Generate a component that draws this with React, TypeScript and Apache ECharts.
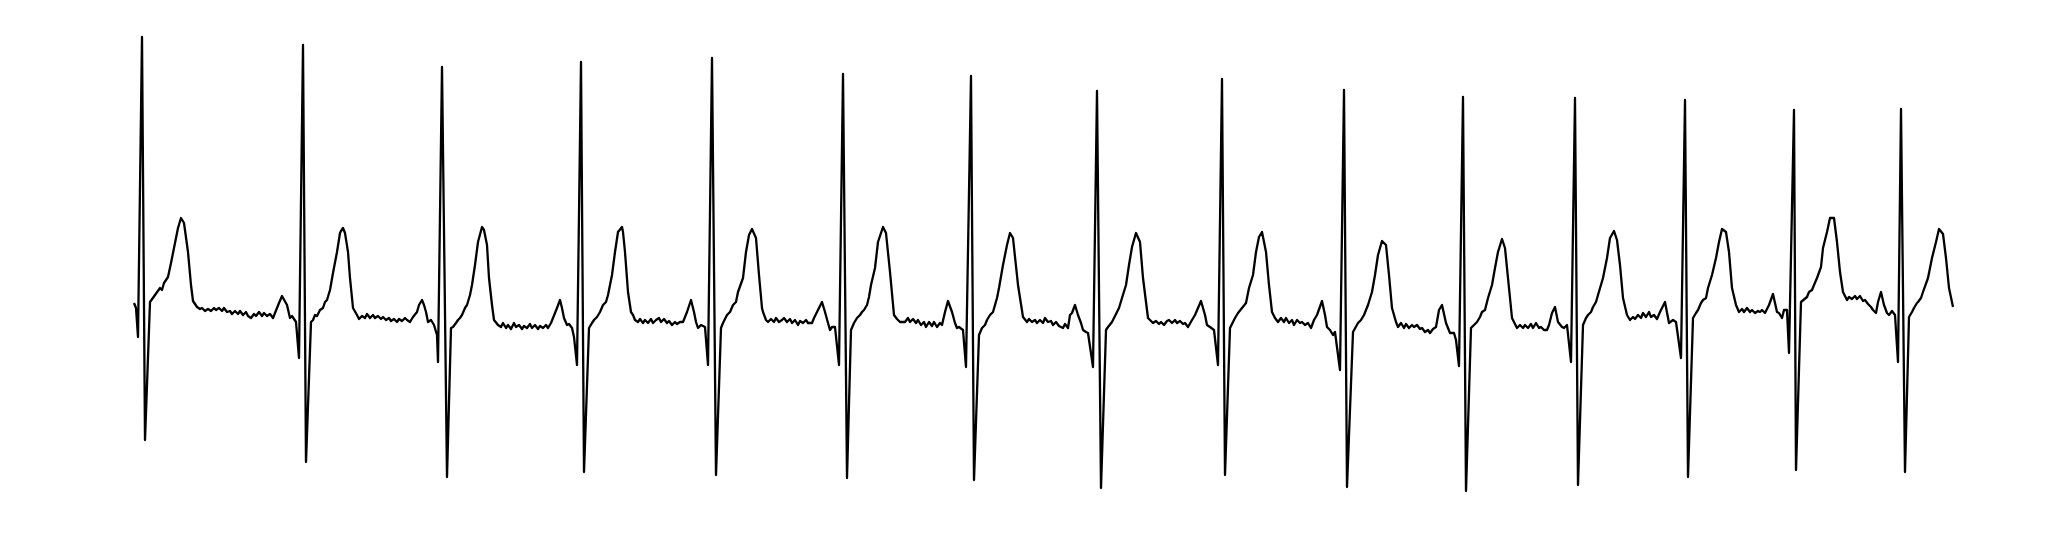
import React, { useEffect, useRef } from "react";
import * as echarts from "echarts";

// ECG trace: [sample, mV] pairs, one array per beat
const beat01 = [[0,0.17],[2,0.12],[4,-0.17],[8,2.83],[11,-1.20],[16,0.18],[21,0.25],[26,0.32],[28,0.30],[30,0.37],[34,0.43],[37,0.57],[40,0.72],[44,0.92],[47,1.02],[50,0.97],[54,0.68],[57,0.35],[59,0.19],[63,0.13],[66,0.11],[68,0.12],[71,0.09],[74,0.11],[77,0.09],[80,0.12],[82,0.10],[85,0.12],[88,0.09],[90,0.12],[93,0.08],[96,0.09],[98,0.06],[101,0.09],[104,0.06],[106,0.09],[109,0.05],[112,0.08],[114,0.04],[117,0.02],[120,0.06],[122,0.04],[125,0.08],[128,0.04],[130,0.07],[133,0.04],[136,0.06],[139,0.02],[143,0.12],[145,0.17],[148,0.24],[153,0.15],[156,0.02],[158,0.04],[160,0.01],[162,-0.02]];
const beat02 = [[165,-0.38],[169,2.75],[172,-1.42],[177,-0.02],[179,0.00],[181,0.05],[183,0.04],[186,0.10],[189,0.12],[191,0.18],[193,0.20],[196,0.30],[199,0.47],[203,0.68],[206,0.87],[207,0.89],[209,0.92],[211,0.87],[214,0.68],[216,0.42],[219,0.12],[223,0.05],[225,0.01],[228,0.04],[231,0.02],[233,0.06],[236,0.02],[239,0.05],[241,0.02],[244,0.04],[247,0.01],[249,0.03],[252,0.00],[255,0.02],[257,-0.01],[260,0.01],[263,-0.02],[265,0.01],[268,-0.01],[271,0.02],[273,0.00],[276,-0.02],[279,0.03],[283,0.08],[285,0.15],[288,0.20],[290,0.15],[292,0.08],[294,-0.02],[297,0.00],[300,-0.05],[303,-0.15]];
const beat03 = [[304,-0.42],[308,2.53],[313,-1.57],[317,-0.08],[319,-0.07],[322,-0.03],[324,0.00],[326,0.02],[328,0.05],[331,0.12],[333,0.15],[336,0.25],[338,0.35],[341,0.55],[344,0.78],[348,0.93],[350,0.90],[353,0.75],[355,0.42],[358,0.15],[360,0.00],[364,-0.05],[367,-0.07],[369,-0.03],[372,-0.08],[374,-0.05],[377,-0.09],[380,-0.03],[382,-0.07],[385,-0.05],[388,-0.09],[390,-0.06],[393,-0.08],[396,-0.04],[398,-0.08],[401,-0.05],[404,-0.09],[406,-0.06],[409,-0.08],[412,-0.05],[414,-0.08],[417,-0.03],[419,0.02],[423,0.12],[426,0.20],[428,0.12],[430,0.02],[433,-0.05],[435,-0.04],[438,-0.08],[440,-0.17]];
const beat04 = [[443,-0.45],[447,2.58],[450,-1.52],[455,-0.08],[458,-0.03],[460,0.00],[463,0.03],[466,0.08],[469,0.15],[472,0.18],[474,0.25],[478,0.45],[481,0.68],[484,0.88],[488,0.93],[489,0.88],[491,0.68],[494,0.28],[497,0.08],[499,0.05],[501,0.00],[504,-0.02],[506,0.01],[509,-0.03],[511,0.00],[514,-0.03],[517,0.01],[519,-0.03],[522,0.00],[525,0.02],[527,-0.02],[530,0.01],[533,-0.03],[535,-0.01],[538,-0.05],[541,-0.02],[543,-0.04],[546,-0.02],[549,-0.02],[553,0.08],[557,0.20],[560,0.08],[562,-0.02],[564,-0.08],[567,-0.05],[571,-0.07]];
const beat05 = [[574,-0.45],[578,2.62],[582,-1.55],[587,-0.08],[589,-0.03],[593,0.05],[596,0.08],[599,0.15],[602,0.18],[604,0.28],[609,0.42],[612,0.68],[615,0.85],[618,0.91],[622,0.82],[625,0.45],[628,0.12],[629,0.08],[632,0.00],[634,-0.02],[637,0.01],[640,-0.02],[642,0.02],[645,-0.02],[648,0.00],[650,0.02],[653,-0.02],[656,0.01],[658,-0.03],[661,0.00],[664,-0.05],[666,-0.01],[669,-0.03],[672,0.00],[674,-0.03],[678,-0.03],[680,0.02],[683,0.08],[685,0.12],[688,0.18],[691,0.08],[694,-0.03],[696,-0.10],[698,-0.07],[701,-0.07]];
const beat06 = [[705,-0.45],[709,2.46],[713,-1.58],[717,-0.10],[720,-0.03],[723,0.02],[726,0.05],[728,0.08],[730,0.10],[733,0.15],[735,0.23],[737,0.35],[741,0.52],[744,0.78],[749,0.93],[752,0.87],[756,0.48],[760,0.05],[763,0.01],[766,-0.02],[771,-0.02],[774,0.02],[776,-0.02],[779,0.01],[782,-0.03],[784,0.00],[787,-0.05],[790,-0.02],[792,-0.07],[795,-0.02],[798,-0.06],[800,-0.02],[803,-0.07],[806,-0.03],[808,-0.05],[811,0.08],[814,0.19],[818,0.08],[821,-0.03],[823,-0.08],[825,-0.07],[829,-0.10]];
const beat07 = [[832,-0.47],[837,2.44],[840,-1.60],[845,-0.15],[848,-0.08],[851,-0.05],[853,0.00],[856,0.05],[859,0.08],[861,0.15],[863,0.22],[865,0.32],[869,0.55],[873,0.75],[876,0.87],[879,0.82],[884,0.35],[889,0.03],[893,-0.02],[895,0.01],[898,-0.02],[901,0.00],[903,-0.03],[906,0.00],[909,-0.03],[911,0.02],[914,-0.02],[917,-0.01],[919,-0.05],[922,-0.02],[925,-0.06],[929,-0.08],[931,-0.04],[934,-0.08],[936,0.05],[938,0.07],[941,0.15],[944,0.05],[947,-0.03],[949,-0.10],[952,-0.12],[954,-0.13]];
const beat08 = [[959,-0.47],[963,2.29],[967,-1.68],[972,-0.10],[974,-0.07],[978,-0.02],[980,0.02],[983,0.08],[985,0.12],[988,0.22],[992,0.35],[995,0.55],[998,0.73],[1002,0.87],[1006,0.78],[1009,0.42],[1014,0.02],[1019,-0.03],[1022,-0.01],[1025,-0.04],[1027,-0.02],[1030,-0.05],[1033,-0.01],[1035,0.00],[1038,-0.03],[1041,0.00],[1043,-0.03],[1046,-0.01],[1049,-0.04],[1051,-0.03],[1054,-0.07],[1058,0.00],[1061,0.05],[1067,0.19],[1071,0.05],[1073,-0.05],[1076,-0.07],[1080,-0.10]];
const beat09 = [[1084,-0.45],[1088,2.41],[1091,-1.55],[1096,-0.08],[1099,-0.02],[1101,0.02],[1104,0.07],[1108,0.12],[1112,0.17],[1115,0.32],[1119,0.45],[1122,0.68],[1125,0.83],[1128,0.88],[1132,0.68],[1135,0.35],[1138,0.08],[1141,0.02],[1144,-0.02],[1147,0.02],[1150,-0.02],[1152,0.02],[1155,-0.03],[1158,0.00],[1160,-0.05],[1163,0.00],[1166,-0.03],[1168,-0.02],[1171,-0.05],[1174,-0.03],[1177,-0.08],[1180,0.00],[1183,0.05],[1188,0.19],[1191,0.05],[1193,-0.07],[1196,-0.10],[1199,-0.15],[1201,-0.12]];
const beat10 = [[1206,-0.50],[1210,2.30],[1213,-1.67],[1219,-0.12],[1224,-0.03],[1227,0.00],[1230,0.05],[1234,0.15],[1238,0.28],[1241,0.45],[1244,0.65],[1248,0.79],[1252,0.75],[1255,0.45],[1258,0.12],[1262,-0.02],[1264,-0.07],[1267,-0.03],[1270,-0.08],[1272,-0.04],[1275,-0.08],[1278,-0.05],[1280,-0.07],[1283,-0.05],[1286,-0.09],[1288,-0.08],[1291,-0.12],[1294,-0.10],[1296,-0.13],[1299,-0.09],[1302,-0.07],[1305,0.10],[1308,0.15],[1312,-0.03],[1316,-0.13],[1320,-0.13],[1322,-0.20]];
const beat11 = [[1325,-0.46],[1329,2.23],[1332,-1.71],[1337,-0.08],[1340,-0.05],[1343,-0.02],[1346,0.03],[1348,0.08],[1351,0.10],[1354,0.22],[1358,0.35],[1361,0.52],[1364,0.68],[1368,0.81],[1371,0.72],[1375,0.32],[1378,0.02],[1383,-0.08],[1386,-0.05],[1389,-0.08],[1391,-0.05],[1394,-0.08],[1397,-0.04],[1399,-0.08],[1402,-0.03],[1405,-0.08],[1407,-0.07],[1410,-0.10],[1413,-0.10],[1415,-0.05],[1418,0.07],[1421,0.13],[1424,-0.02],[1428,-0.07],[1430,-0.08],[1433,-0.05]];
const beat12 = [[1437,-0.42],[1441,2.22],[1444,-1.65],[1449,-0.05],[1452,0.02],[1454,0.05],[1457,0.08],[1459,0.13],[1462,0.18],[1464,0.25],[1469,0.42],[1473,0.62],[1476,0.82],[1480,0.89],[1483,0.80],[1486,0.55],[1489,0.22],[1493,0.05],[1496,0.00],[1499,0.03],[1501,0.01],[1504,0.05],[1507,0.02],[1509,0.07],[1512,0.03],[1515,0.08],[1517,0.03],[1520,0.05],[1523,0.01],[1526,0.08],[1531,0.18],[1535,-0.03],[1539,0.00],[1542,-0.02]];
const beat13 = [[1547,-0.38],[1551,2.20],[1554,-1.57],[1559,0.02],[1562,0.07],[1564,0.10],[1567,0.17],[1569,0.20],[1572,0.22],[1574,0.32],[1578,0.45],[1582,0.62],[1585,0.78],[1588,0.91],[1592,0.88],[1595,0.68],[1598,0.32],[1602,0.15],[1605,0.08],[1608,0.11],[1610,0.08],[1613,0.12],[1616,0.08],[1618,0.10],[1621,0.07],[1624,0.09],[1626,0.08],[1628,0.10],[1631,0.07],[1635,0.15],[1639,0.26],[1643,0.08],[1645,0.07],[1648,0.02],[1650,0.10],[1653,0.10]];
const beat14 = [[1655,-0.33],[1660,2.10],[1662,-1.50],[1667,0.18],[1673,0.23],[1675,0.28],[1678,0.30],[1680,0.35],[1683,0.42],[1687,0.53],[1689,0.72],[1693,0.88],[1696,1.02],[1700,1.02],[1703,0.78],[1706,0.48],[1709,0.28],[1713,0.20],[1715,0.23],[1718,0.21],[1721,0.24],[1723,0.21],[1726,0.24],[1729,0.19],[1731,0.20],[1734,0.16],[1737,0.13],[1739,0.10],[1742,0.07],[1744,0.18],[1747,0.28],[1750,0.15],[1753,0.07],[1755,0.05],[1758,0.09],[1761,0.05]];
const beat15 = [[1764,-0.42],[1767,2.11],[1771,-1.52],[1775,0.03],[1778,0.08],[1780,0.12],[1783,0.17],[1784,0.18],[1787,0.22],[1789,0.28],[1794,0.42],[1798,0.62],[1802,0.78],[1805,0.91],[1809,0.86],[1812,0.62],[1815,0.32],[1819,0.13]];

const ecg = [
  ...beat01, ...beat02, ...beat03, ...beat04, ...beat05,
  ...beat06, ...beat07, ...beat08, ...beat09, ...beat10,
  ...beat11, ...beat12, ...beat13, ...beat14, ...beat15,
];

export default function App() {
  const ref = useRef<HTMLDivElement>(null);
  useEffect(() => {
    if (!ref.current) return;
    const chart = echarts.init(ref.current, undefined, { renderer: "svg" });
    chart.setOption({
      animation: false,
      backgroundColor: "#ffffff",
      grid: { left: 134, right: 93, top: 20, bottom: 18 },
      xAxis: { type: "value", min: 0, max: 1819, show: false },
      yAxis: { type: "value", min: -2, max: 3, show: false },
      series: [
        {
          type: "line",
          data: ecg,
          showSymbol: false,
          symbol: "none",
          lineStyle: { color: "#000000", width: 2.3, join: "round" },
        },
      ],
    });
    return () => chart.dispose();
  }, []);
  return (
    <div
      ref={ref}
      style={{ position: "fixed", left: 0, top: 0, width: 2046, height: 538, background: "#fff" }}
    />
  );
}
